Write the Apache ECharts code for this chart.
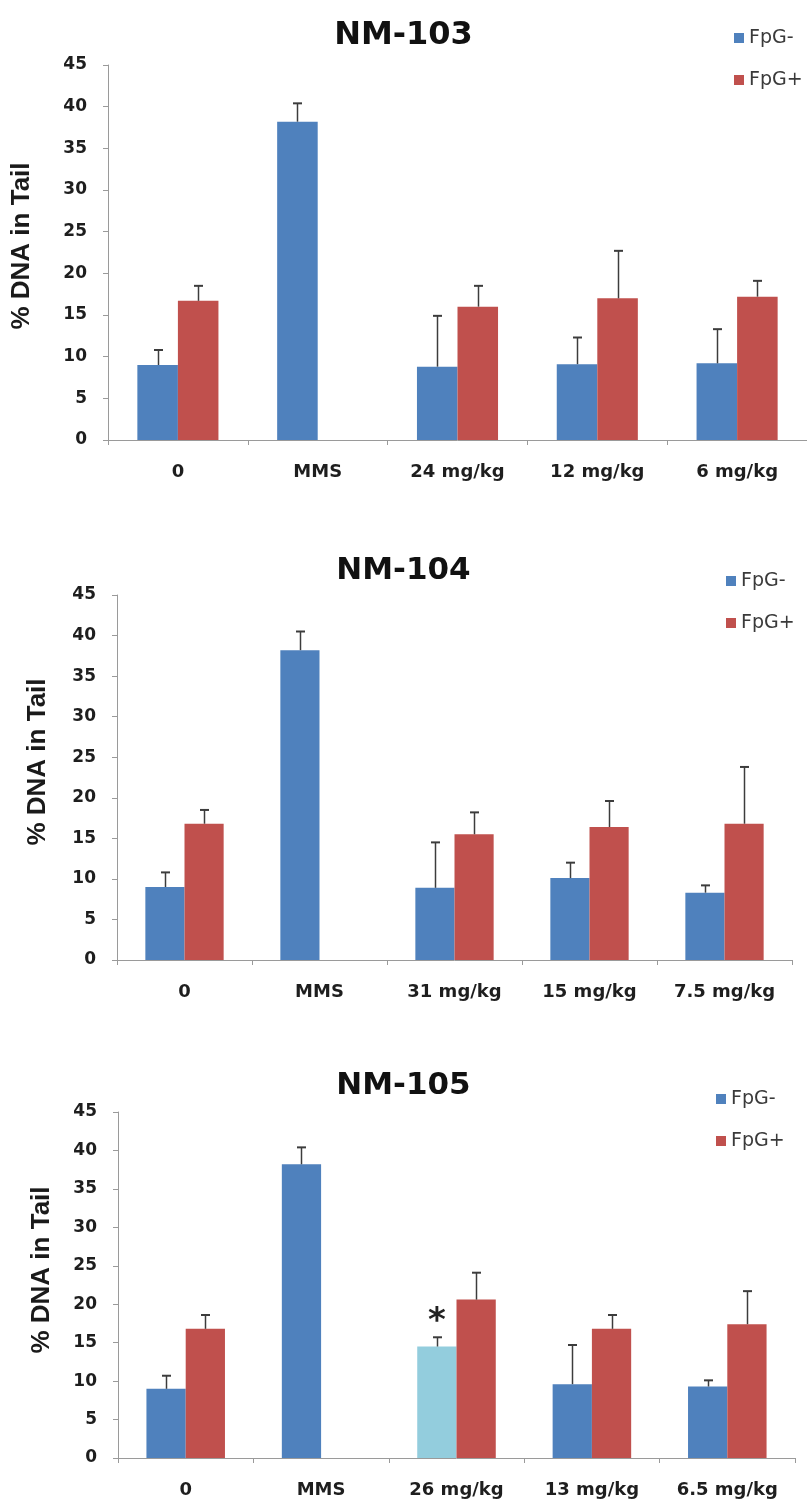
<!DOCTYPE html>
<html>
<head>
<meta charset="utf-8">
<script src="https://cdn.jsdelivr.net/npm/echarts@6/dist/echarts.min.js"></script>
<style>
  html, body { margin: 0; padding: 0; background: #ffffff; }
  #chart { width: 807px; height: 1499px; }
</style>
</head>
<body>
<div id="chart"></div>
<script>
// ---------------- data ----------------
var titles = ['NM-103', 'NM-104', 'NM-105'];
var seriesNames = ['FpG-', 'FpG+'];
var yTicks = [0, 5, 10, 15, 20, 25, 30, 35, 40, 45];
var yTitle = '% DNA in Tail';

var categories1 = ['0', 'MMS', '24 mg/kg', '12 mg/kg', '6 mg/kg'];
var fpgMinus1 = [9.0, 38.2, 8.8, 9.1, 9.2];
var fpgMinusErr1 = [1.8, 2.2, 6.1, 3.2, 4.1];
var fpgPlus1 = [16.7, null, 16.0, 17.0, 17.2];
var fpgPlusErr1 = [1.8, null, 2.5, 5.7, 1.9];

var categories2 = ['0', 'MMS', '31 mg/kg', '15 mg/kg', '7.5 mg/kg'];
var fpgMinus2 = [9.0, 38.2, 8.9, 10.1, 8.3];
var fpgMinusErr2 = [1.8, 2.3, 5.6, 1.9, 0.9];
var fpgPlus2 = [16.8, null, 15.5, 16.4, 16.8];
var fpgPlusErr2 = [1.7, null, 2.7, 3.2, 7.0];

var categories3 = ['0', 'MMS', '26 mg/kg', '13 mg/kg', '6.5 mg/kg'];
var fpgMinus3 = [9.0, 38.2, 14.5, 9.6, 9.3];
var fpgMinusErr3 = [1.7, 2.2, 1.2, 5.1, 0.8];
var fpgPlus3 = [16.8, null, 20.6, 16.8, 17.4];
var fpgPlusErr3 = [1.8, null, 3.5, 1.8, 4.3];
var significantIndex3 = 2;   // 26 mg/kg FpG- marked with *

// ---------------- styles / layout ----------------
var BLUE = '#4F81BD', RED = '#C0504D', LIGHTBLUE = '#93CDDD';
var AXIS = '#9a9a9a', ERR = '#3c3c3c';
var GAP = 0.42;

var panels = [
  { cats: categories1, minus: fpgMinus1, minusErr: fpgMinusErr1, plus: fpgPlus1, plusErr: fpgPlusErr1,
    grid: { left: 108, top: 65, width: 707, height: 375 }, titleTop: 15, titleSize: 32,
    legend: { left: 729, top: 23 }, yTitle: { x: 22, y: 246 } },
  { cats: categories2, minus: fpgMinus2, minusErr: fpgMinusErr2, plus: fpgPlus2, plusErr: fpgPlusErr2,
    grid: { left: 117, top: 595, width: 675, height: 365 }, titleTop: 550, titleSize: 31,
    legend: { left: 721, top: 566 }, yTitle: { x: 38, y: 762 } },
  { cats: categories3, minus: fpgMinus3, minusErr: fpgMinusErr3, plus: fpgPlus3, plusErr: fpgPlusErr3,
    grid: { left: 118, top: 1112, width: 677, height: 350 }, titleTop: 1065, titleSize: 31,
    legend: { left: 711, top: 1084 }, yTitle: { x: 42, y: 1270 } }
];

function errRender(sign) {
  return function (params, api) {
    var xi = api.value(0), v = api.value(1), e = api.value(2);
    var base = api.coord([xi, v]);
    var top = api.coord([xi, v + e]);
    var band = api.size([1, 0])[0];
    var bw = band * (1 - GAP) / 2;
    var x = Math.round(base[0] + sign * bw / 2) + 0.5;
    var st = { stroke: ERR, lineWidth: 1.5 };
    return {
      type: 'group',
      children: [
        { type: 'line', shape: { x1: x, y1: base[1], x2: x, y2: top[1] }, style: st },
        { type: 'line', shape: { x1: x - 4.5, y1: top[1], x2: x + 4.5, y2: top[1] }, style: { stroke: ERR, lineWidth: 2 } }
      ]
    };
  };
}

function errData(vals, errs) {
  var out = [];
  for (var i = 0; i < vals.length; i++) {
    if (vals[i] != null && errs[i] != null) out.push([i, vals[i], errs[i]]);
  }
  return out;
}

var option = {
  backgroundColor: '#ffffff',
  animation: false,
  title: [], legend: [], grid: [], xAxis: [], yAxis: [], series: [], graphic: []
};

panels.forEach(function (p, k) {
  option.title.push({
    text: titles[k], left: 'center', top: p.titleTop,
    textStyle: { fontFamily: 'DejaVu Sans', fontWeight: 'bold', fontSize: p.titleSize, color: '#111111' }
  });
  option.legend.push({
    data: seriesNames, orient: 'vertical', left: p.legend.left, top: p.legend.top,
    icon: 'rect', itemWidth: 10, itemHeight: 10, itemGap: 22, itemTextGap: 6,
    textStyle: { fontFamily: 'DejaVu Sans', fontSize: 19, color: '#3a3a3a', lineHeight: 20 },
    selectedMode: false
  });
  option.grid.push(p.grid);
  option.xAxis.push({
    type: 'category', gridIndex: k, data: p.cats,
    axisLine: { lineStyle: { color: AXIS, width: 1 } },
    axisTick: { show: true, length: 5, lineStyle: { color: AXIS } },
    axisLabel: { margin: 23, fontFamily: 'DejaVu Sans', fontWeight: 'bold', fontSize: 18, color: '#1e1e1e' }
  });
  option.yAxis.push({
    type: 'value', gridIndex: k, min: yTicks[0], max: yTicks[yTicks.length - 1], interval: yTicks[1] - yTicks[0],
    splitLine: { show: false },
    axisLine: { show: true, lineStyle: { color: AXIS, width: 1 } },
    axisTick: { show: true, length: 5, lineStyle: { color: AXIS } },
    axisLabel: { margin: 21, fontFamily: 'DejaVu Sans', fontWeight: 'bold', fontSize: 17, color: '#1e1e1e' }
  });
  var minusData = p.minus.map(function (v, i) {
    if (k === 2 && i === significantIndex3) {
      return {
        value: v, itemStyle: { color: LIGHTBLUE },
        label: { show: true, position: 'top', distance: 7, formatter: '*',
          fontFamily: 'DejaVu Sans', fontWeight: 'bold', fontSize: 34, color: '#222222' }
      };
    }
    return v;
  });
  option.series.push({
    name: seriesNames[0], type: 'bar', xAxisIndex: k, yAxisIndex: k, data: minusData,
    barGap: '0%', barCategoryGap: (GAP * 100) + '%', itemStyle: { color: BLUE }
  });
  option.series.push({
    name: seriesNames[1], type: 'bar', xAxisIndex: k, yAxisIndex: k, data: p.plus,
    barGap: '0%', barCategoryGap: (GAP * 100) + '%', itemStyle: { color: RED }
  });
  option.series.push({
    type: 'custom', xAxisIndex: k, yAxisIndex: k, renderItem: errRender(-1),
    data: errData(p.minus, p.minusErr), z: 5, silent: true
  });
  option.series.push({
    type: 'custom', xAxisIndex: k, yAxisIndex: k, renderItem: errRender(1),
    data: errData(p.plus, p.plusErr), z: 5, silent: true
  });
  option.graphic.push({
    type: 'text', x: p.yTitle.x, y: p.yTitle.y, rotation: Math.PI / 2,
    style: { text: yTitle, fontFamily: 'Liberation Sans', fontWeight: 'bold', fontSize: 26,
      fill: '#1a1a1a', textAlign: 'center', textVerticalAlign: 'middle' }
  });
});

var chart = echarts.init(document.getElementById('chart'), null, { renderer: 'canvas' });
chart.setOption(option);
</script>
</body>
</html>
